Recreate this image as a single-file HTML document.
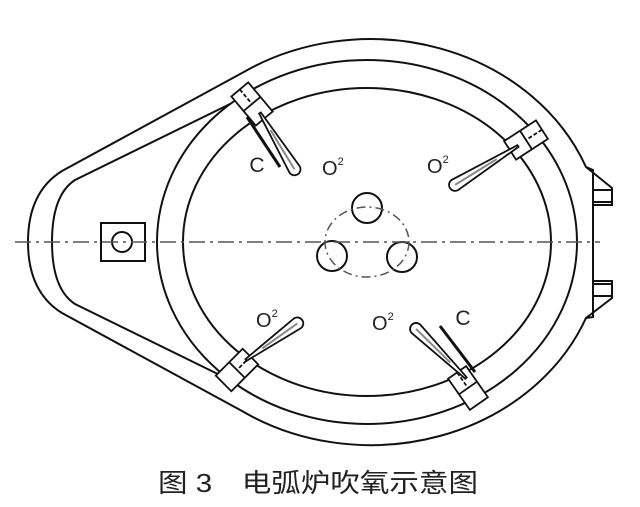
<!DOCTYPE html>
<html><head><meta charset="utf-8"><style>
html,body{margin:0;padding:0;background:#fff;}
svg{display:block;}
</style></head><body>
<svg width="640" height="507" viewBox="0 0 640 507" xmlns="http://www.w3.org/2000/svg">
<g fill="none" stroke="#111" stroke-width="2">
<path d="M242,73 L62,171 Q28,192 28,242 Q28,292 62,313 L242,411 A232,203 0 0 0 586,318 L593,317 L593,170 L586,167 A232,203 0 0 0 242,73 Z"/>
<path d="M586,167 L612,188 L612,205 L593,205 M593,190 L612,190 M593,202 L612,202"/>
<path d="M586,318 L612,298 L612,281 L593,281 M593,296 L612,296 M593,284 L612,284"/>
<path d="M230,104 L75,180 Q52,195 52,242 Q52,289 75,304 L230,380"/>
<ellipse cx="367" cy="242" rx="210" ry="182"/>
<ellipse cx="367" cy="242" rx="184" ry="154"/>
<rect x="101" y="223" width="44" height="38"/>
<circle cx="122" cy="242" r="10"/>
<circle cx="367" cy="208" r="15"/>
<circle cx="332" cy="256" r="15"/>
<circle cx="402" cy="257" r="15"/>
</g>
<line x1="15" y1="242" x2="600" y2="242" stroke="#555" stroke-width="1.5" stroke-dasharray="16,5,3,5"/>
<ellipse cx="367" cy="242" rx="42" ry="35" fill="none" stroke="#555" stroke-width="1.5" stroke-dasharray="9,4,2,4"/>
<g fill="#fff" stroke="#111" stroke-width="1.8">
<g transform="translate(252,104) rotate(-40)"><rect x="-11" y="-19" width="22" height="38"/><line x1="-11" y1="0" x2="11" y2="0"/><line x1="0" y1="-19" x2="0" y2="0" stroke-dasharray="4,2"/></g>
<g transform="translate(526,140) rotate(57)"><rect x="-11" y="-19" width="22" height="38"/><line x1="-11" y1="0" x2="11" y2="0"/><line x1="0" y1="-19" x2="0" y2="0" stroke-dasharray="4,2"/></g>
<g transform="translate(237,370) rotate(45)"><rect x="-11" y="-19" width="22" height="38"/><line x1="-11" y1="0" x2="11" y2="0"/><line x1="0" y1="-19" x2="0" y2="0" stroke-dasharray="4,2"/></g>
<g transform="translate(468,388) rotate(-35)"><rect x="-11" y="-19" width="22" height="38"/><line x1="-11" y1="0" x2="11" y2="0"/><line x1="0" y1="-19" x2="0" y2="0" stroke-dasharray="4,2"/></g>
</g>
<g fill="#fff" stroke="#111" stroke-width="1.8">
<g transform="translate(260,113) rotate(58.5)"><path d="M0,-1 L66,-6 A6,6 0 0 1 66,6 L0,1 Z"/><line x1="20" y1="0" x2="66" y2="0" stroke="#888" stroke-width="2"/></g>
<g transform="translate(518,146) rotate(148.3)"><path d="M0,-1 L74,-6 A6,6 0 0 1 74,6 L0,1 Z"/><line x1="25" y1="0" x2="74" y2="0" stroke="#888" stroke-width="2"/></g>
<g transform="translate(246,360) rotate(-35.5)"><path d="M0,-1 L63,-6 A6,6 0 0 1 63,6 L0,1 Z"/><line x1="20" y1="0" x2="63" y2="0" stroke="#888" stroke-width="2"/></g>
<g transform="translate(466,378) rotate(224.5)"><path d="M0,-1 L70,-6 A6,6 0 0 1 70,6 L0,1 Z"/><line x1="22" y1="0" x2="70" y2="0" stroke="#888" stroke-width="2"/></g>
</g>
<line x1="247" y1="117" x2="280" y2="167" stroke="#111" stroke-width="3"/>
<line x1="440" y1="326" x2="475" y2="372" stroke="#111" stroke-width="3"/>
<g font-family="Liberation Sans, sans-serif" fill="#222">
<text x="257" y="172" font-size="21" text-anchor="middle">C</text>
<text x="463" y="325" font-size="21" text-anchor="middle">C</text>
<g font-size="20">
<text x="322" y="175">O<tspan font-size="11" dy="-10">2</tspan></text>
<text x="427" y="173">O<tspan font-size="11" dy="-10">2</tspan></text>
<text x="256" y="327">O<tspan font-size="11" dy="-10">2</tspan></text>
<text x="372" y="330">O<tspan font-size="11" dy="-10">2</tspan></text>
</g>
</g>
<text x="158" y="492" font-family="Liberation Sans, Noto Sans CJK SC, sans-serif" font-size="26" fill="#222" textLength="320" lengthAdjust="spacingAndGlyphs">图 3　电弧炉吹氧示意图</text>
</svg>
</body></html>
